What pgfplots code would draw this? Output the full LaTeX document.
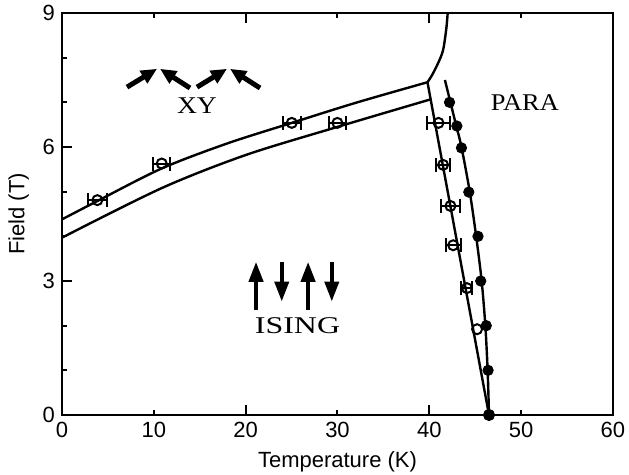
\documentclass[border=0pt]{standalone}
\usepackage{fontspec}
\setmainfont{Liberation Sans}
\newfontfamily\serif{Liberation Serif}
\usepackage{pgfplots}
\pgfplotsset{compat=1.18}
\usetikzlibrary{arrows.meta}

\begin{document}
\begin{tikzpicture}
\useasboundingbox (0,0) rectangle (314.5pt,237.5pt);
\begin{axis}[
  at={(31pt,30pt)}, anchor=south west,
  width=275.5pt, height=201pt, scale only axis,
  xmin=0, xmax=60, ymin=0, ymax=9,
  xtick={0,10,...,60}, ytick={0,1,...,9},
  yticklabels={0,,,3,,,6,,,9},
  extra x ticks={20,40}, extra x tick labels={,},
  extra y ticks={3,6}, extra y tick labels={,},
  extra tick style={major tick length=5pt},
  major tick length=2.5pt,
  tick align=inside, xtick pos=both, ytick pos=left,
  tick style={black, line width=1pt},
  axis line style={line width=1pt},
  xlabel={Temperature (K)}, ylabel={Field (T)},
  tick label style={font=\fontsize{11}{13}\selectfont},
  label style={font=\fontsize{11}{13}\selectfont},
  /pgf/number format/assume math mode=true,
]
% XY / Ising boundaries
\addplot[black, line width=1.2pt, smooth] coordinates {
  (0,4.38) (3.85,4.79) (10.86,5.52) (18,6.08) (25.02,6.54) (32,6.99) (39.8,7.45)};
\addplot[black, line width=1.2pt, smooth] coordinates {
  (0,3.97) (10.86,5.08) (20,5.82) (30,6.45) (40.2,7.07)};
% XY / para boundary
\addplot[black, line width=1.2pt, smooth] coordinates {
  (39.8,7.45) (40.3,7.61) (40.96,7.88) (41.5,8.17) (41.85,8.65) (42.0,9.0)};
% Ising / para boundaries
\addplot[black, line width=1.2pt] coordinates {(39.8,7.45) (46.5,0)};
\addplot[black, line width=1.2pt, smooth] coordinates {
  (41.7,7.5) (42.3,7.0) (42.9,6.5) (43.5,6.0) (44.4,5.0) (45.1,4.0)
  (45.7,3.0) (46.1,2.0) (46.35,1.0) (46.5,0)};
% open circles with error bars
\addplot[only marks, mark=o, mark size=2.5pt, line width=1pt,
  mark options={fill=white},
  error bars/.cd, x dir=both, x explicit,
  error bar style={line width=1pt},
  error mark options={mark size=3.5pt, line width=1pt, rotate=90}]
  table[x=x, y=y, x error=ex] {
x     y    ex
3.85  4.81 1.0
10.86 5.63 0.95
25.02 6.54 1.0
29.99 6.54 0.95
41.0  6.54 1.2
41.5  5.60 0.8
42.3  4.68 1.05
42.6  3.80 0.8
44.1  2.84 0.6
};
\addplot[only marks, mark=o, mark size=2.5pt, line width=1pt,
  mark options={fill=white}] coordinates {(45.2,1.92) (46.5,0)};
% filled circles
\addplot[only marks, mark=*, mark size=2.6pt] coordinates {
  (42.2,7.0) (43.0,6.47) (43.5,5.98) (44.3,4.99) (45.3,4.0)
  (45.6,3.0) (46.2,2.0) (46.4,1.0) (46.5,0)};
% spin arrows
\draw[line width=2.5pt, -{Triangle[length=8pt,width=7pt]}] (7.08,7.34) -- (10.35,7.75);
\draw[line width=2.5pt, -{Triangle[length=8pt,width=7pt]}] (13.94,7.32) -- (10.68,7.75);
\draw[line width=2.5pt, -{Triangle[length=8pt,width=7pt]}] (14.7,7.34) -- (17.97,7.75);
\draw[line width=2.5pt, -{Triangle[length=8pt,width=7pt]}] (21.57,7.32) -- (18.3,7.75);
\draw[line width=2pt, -{Triangle[length=10pt,width=7pt]}] (21.13,2.35) -- (21.13,3.43);
\draw[line width=2pt, -{Triangle[length=10pt,width=7pt]}] (23.93,3.43) -- (23.93,2.54);
\draw[line width=2pt, -{Triangle[length=10pt,width=7pt]}] (26.8,2.35) -- (26.8,3.43);
\draw[line width=2pt, -{Triangle[length=10pt,width=7pt]}] (29.38,3.43) -- (29.38,2.54);
% region labels
\node[font=\serif\fontsize{12}{14}\selectfont, xscale=1.15] at (14.7,6.92) {XY};
\node[font=\serif\fontsize{12}{14}\selectfont, xscale=1.1] at (50.4,7.0) {PARA};
\node[font=\serif\fontsize{12}{14}\selectfont, xscale=1.33] at (25.65,2.0) {ISING};
\end{axis}
\end{tikzpicture}
\end{document}
